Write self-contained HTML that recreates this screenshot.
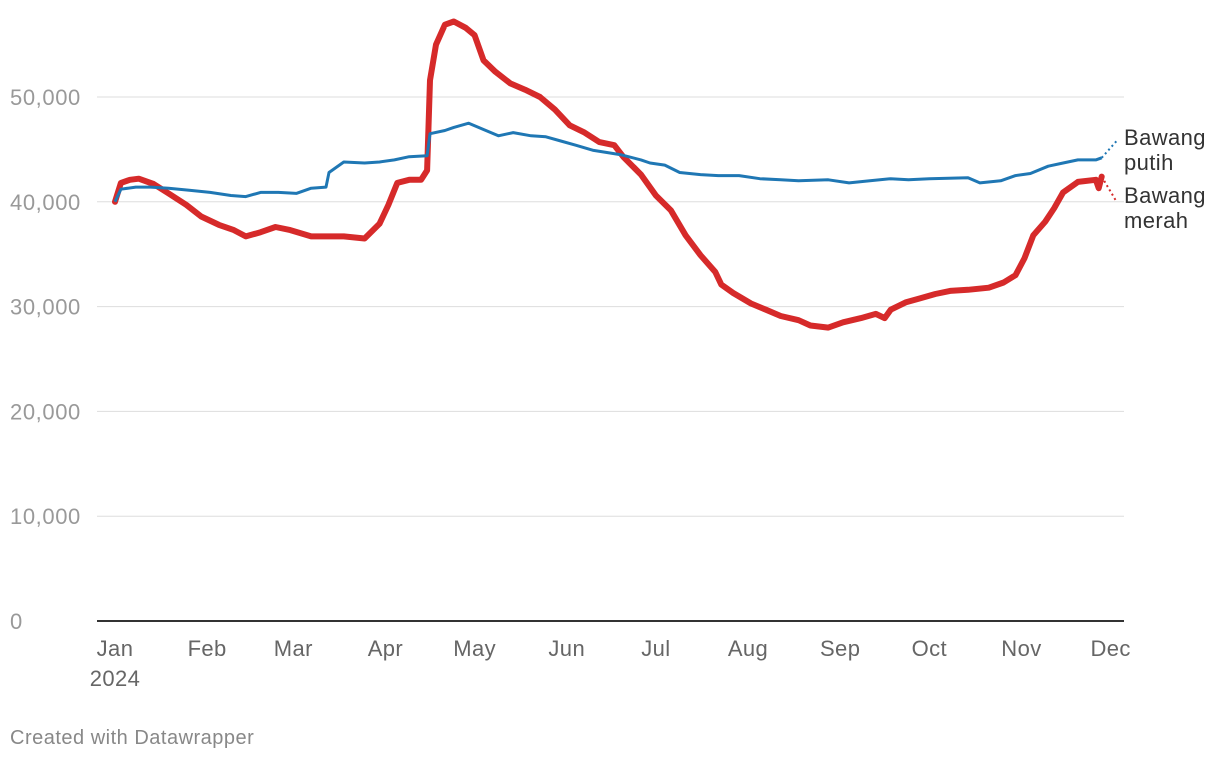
<!DOCTYPE html>
<html><head><meta charset="utf-8"><style>
body{margin:0;background:#fff;font-family:"Liberation Sans",Arial,sans-serif;}
svg{display:block}
</style></head><body>
<svg id="chart" width="1220" height="760">
<g id="grid"></g>
<g id="xaxis"></g>
<g id="lines"></g>
<text x="1124" y="145" font-size="22" letter-spacing="0.4" fill="#333">Bawang</text>
<text x="1124" y="170" font-size="22" letter-spacing="0.4" fill="#333">putih</text>
<text x="1124" y="203" font-size="22" letter-spacing="0.4" fill="#333">Bawang</text>
<text x="1124" y="228" font-size="22" letter-spacing="0.4" fill="#333">merah</text>
<text x="10" y="744" font-size="20" letter-spacing="0.5" fill="#888">Created with Datawrapper</text>
</svg>
<script>
const yTicks=[0,10000,20000,30000,40000,50000];
const monthLabels=["Jan","Feb","Mar","Apr","May","Jun","Jul","Aug","Sep","Oct","Nov","Dec"];
const monthDays=[0,31,60,91,121,152,182,213,244,274,305,335];
const merahDays=[0,2,5,8,13,18,24,29,35,40,44,49,54,59,66,72,77,84,89,92,95,99,103,105,106,108,111,114,118,121,124,128,133,138,143,148,153,158,163,168,171,177,182,187,192,197,202,204,208,214,219,224,230,234,240,245,251,256,259,261,266,271,276,281,287,294,299,303,306,309,313,316,319,324,330,331,332];
const merahVals=[40000,41800,42100,42200,41700,40800,39700,38600,37800,37300,36700,37100,37600,37300,36700,36700,36700,36500,37900,39700,41800,42100,42100,43000,51600,55000,56900,57200,56600,55900,53500,52400,51300,50700,50000,48800,47300,46600,45700,45400,44300,42600,40600,39200,36800,34900,33300,32100,31300,30300,29700,29100,28700,28200,28000,28500,28900,29300,28900,29700,30400,30800,31200,31500,31600,31800,32300,33000,34600,36800,38100,39400,40900,41900,42100,41300,42400];
const putihDays=[0,2,7,12,18,25,32,39,44,49,55,61,66,71,72,77,84,89,94,99,105,106,111,114,119,124,129,134,140,145,150,155,161,170,177,180,185,190,197,203,210,217,224,230,240,247,254,261,267,274,287,291,298,303,308,314,319,324,330,332];
const putihVals=[40000,41200,41400,41400,41300,41100,40900,40600,40500,40900,40900,40800,41300,41400,42800,43800,43700,43800,44000,44300,44400,46500,46800,47100,47500,46900,46300,46600,46300,46200,45800,45400,44900,44500,44000,43700,43500,42800,42600,42500,42500,42200,42100,42000,42100,41800,42000,42200,42100,42200,42300,41800,42000,42500,42700,43400,43700,44000,44000,44200];
const putihProj=[332,337,44200,45800];
const merahProj=[332,337,42400,40000];
const NS="http://www.w3.org/2000/svg";
const X=d=>115+d*2.972;
const Y=v=>621-v*0.01048;
function mk(t,a,p){const e=document.createElementNS(NS,t);for(const k in a)e.setAttribute(k,a[k]);p.appendChild(e);return e;}
const grid=document.getElementById('grid');
yTicks.forEach(t=>{
 const l=mk('line',{x1:97,x2:1124,y1:Y(t),y2:Y(t),stroke:t===0?'#333':'#ddd','stroke-width':t===0?2:1},grid);
 
 
 const tx=mk('text',{x:10,y:Y(t)+8,'font-size':22,'letter-spacing':0.6,fill:'#999'},grid);
 tx.textContent=t.toLocaleString('en-US');
 
 
});
const xa=document.getElementById('xaxis');
monthLabels.forEach((m,i)=>{
 const tx=mk('text',{x:X(monthDays[i]),y:656,'font-size':22,'letter-spacing':0.4,fill:'#666','text-anchor':'middle'},xa);
 tx.textContent=m;
 
 
});
const yr=mk('text',{x:X(0),y:686,'font-size':22,'letter-spacing':0.4,fill:'#666','text-anchor':'middle'},xa);
yr.textContent="2024";


const lines=document.getElementById('lines');
function path(days,vals){return days.map((d,i)=>(i?'L':'M')+X(d).toFixed(1)+' '+Y(vals[i]).toFixed(1)).join(' ');}
const pp=mk('path',{d:path([putihProj[0],putihProj[1]],[putihProj[2],putihProj[3]]),stroke:'#1f77b4','stroke-width':2,'stroke-dasharray':'2 3',fill:'none'},lines);


const mp=mk('path',{d:path([merahProj[0],merahProj[1]],[merahProj[2],merahProj[3]]),stroke:'#d62a2a','stroke-width':2,'stroke-dasharray':'2 3',fill:'none'},lines);


const ml=mk('path',{d:path(merahDays,merahVals),stroke:'#d62a2a','stroke-width':6,fill:'none','stroke-linejoin':'round','stroke-linecap':'round'},lines);


const pl=mk('path',{d:path(putihDays,putihVals),stroke:'#1f77b4','stroke-width':3,fill:'none','stroke-linejoin':'round'},lines);


</script>
</body></html>
